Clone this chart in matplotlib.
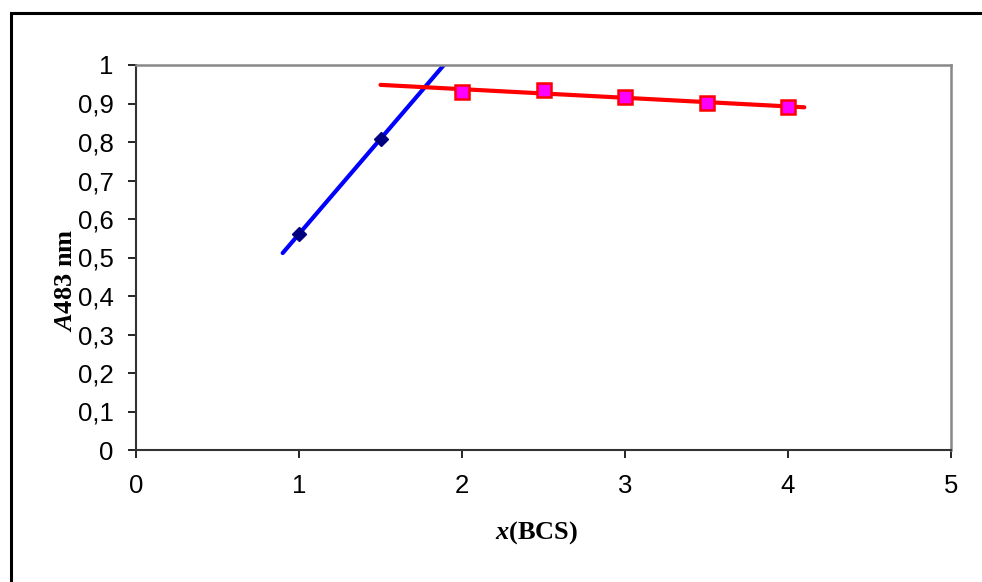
import numpy as np
import matplotlib
matplotlib.use("Agg")
import matplotlib.pyplot as plt
from matplotlib.patches import Rectangle

plt.rcParams['font.family'] = 'Liberation Sans'
plt.rcParams['mathtext.fontset'] = 'custom'
plt.rcParams['mathtext.it'] = 'Liberation Serif:italic:bold'
plt.rcParams['mathtext.rm'] = 'Liberation Serif:bold'

# data
x_blue = [1.0, 1.5]
y_blue = [0.561, 0.808]
x_red = [2.0, 2.5, 3.0, 3.5, 4.0]
y_red = [0.930, 0.935, 0.917, 0.901, 0.891]

# trendline ranges
blue_range = [0.9, 2.1]
red_range = [1.5, 4.1]

x_ticks = [0, 1, 2, 3, 4, 5]
y_ticks = [0, 0.1, 0.2, 0.3, 0.4, 0.5, 0.6, 0.7, 0.8, 0.9, 1.0]
y_labels = ["0", "0,1", "0,2", "0,3", "0,4", "0,5", "0,6", "0,7", "0,8", "0,9", "1"]

fig = plt.figure(figsize=(9.82, 5.82), dpi=100)
ax = fig.add_axes([136 / 982, 1 - 450 / 582, 815 / 982, 385 / 582])

# outer chart frame (only top and left edges visible)
fig.patches.append(Rectangle((10.5 / 982, -0.1), 1.2, 1.1 - 13 / 582,
                             transform=fig.transFigure, fill=False,
                             edgecolor="black", linewidth=2.2))

# linear trendlines
pb = np.polyfit(x_blue, y_blue, 1)
pr = np.polyfit(x_red, y_red, 1)
xb = np.array(blue_range)
xr = np.array(red_range)
ax.plot(xb, np.polyval(pb, xb), color="#0000ff", linewidth=3, solid_capstyle="round", zorder=2)
ax.plot(xr, np.polyval(pr, xr), color="#ff0000", linewidth=3, solid_capstyle="round", zorder=2)

ax.plot(x_blue, y_blue, linestyle="none", marker="D", markersize=7,
        markerfacecolor="#000080", markeredgecolor="#000080", zorder=3)
ax.plot(x_red, y_red, linestyle="none", marker="s", markersize=10,
        markerfacecolor="#ff00ff", markeredgecolor="#ff0000", markeredgewidth=1.8, zorder=3)

ax.set_xlim(0, 5)
ax.set_ylim(0, 1)
ax.set_xticks(x_ticks)
ax.set_yticks(y_ticks)
ax.set_yticklabels(y_labels)
ax.tick_params(direction="out", length=6, width=1.2, labelsize=18.5)
ax.tick_params(axis="x", pad=11)
ax.tick_params(axis="y", pad=10)

for s in ["left", "bottom"]:
    ax.spines[s].set_color("#333333")
    ax.spines[s].set_linewidth(1.5)
for s in ["top", "right"]:
    ax.spines[s].set_color("#888888")
    ax.spines[s].set_linewidth(1.8)

ax.set_xlabel("$x$(BCS)", fontsize=19, fontfamily="Liberation Serif", fontweight="bold")
ax.set_ylabel("$A$483 nm", fontsize=19, fontfamily="Liberation Serif", fontweight="bold")
ax.xaxis.set_label_coords(0.492, -0.18)
ax.yaxis.set_label_coords(-0.072, 0.44)

fig.savefig("out.png", dpi=100)
